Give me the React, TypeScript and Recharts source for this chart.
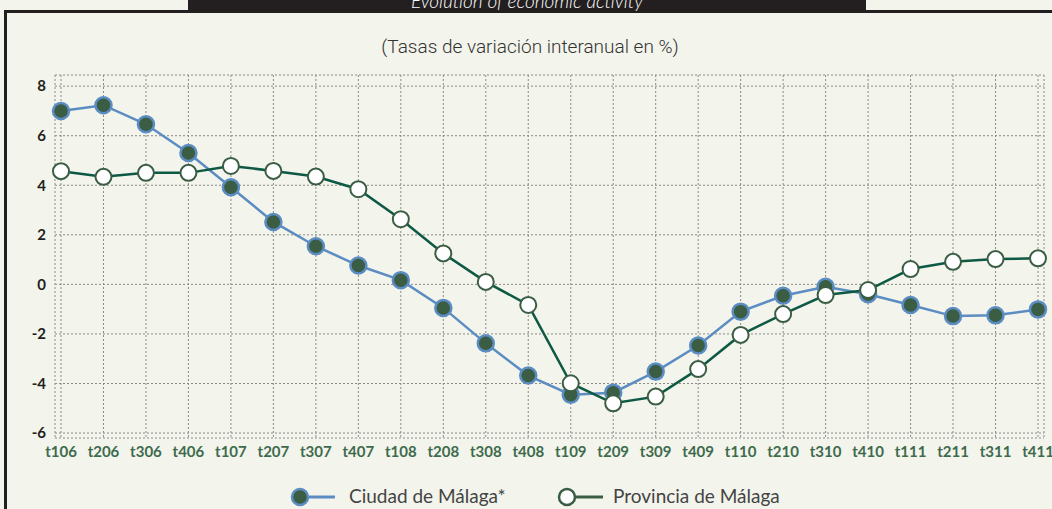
import React from 'react';
import { LineChart, Line, XAxis, YAxis, CartesianGrid } from 'recharts';

const categories = ['t106','t206','t306','t406','t107','t207','t307','t407','t108','t208','t308','t408','t109','t209','t309','t409','t110','t210','t310','t410','t111','t211','t311','t411'];
const ciudad = [7.0, 7.23, 6.46, 5.3, 3.92, 2.52, 1.54, 0.76, 0.17, -0.95, -2.38, -3.68, -4.45, -4.37, -3.52, -2.47, -1.1, -0.46, -0.1, -0.4, -0.83, -1.28, -1.25, -1.01];
const provincia = [4.57, 4.34, 4.5, 4.5, 4.78, 4.58, 4.35, 3.84, 2.63, 1.25, 0.1, -0.83, -3.99, -4.8, -4.53, -3.42, -2.04, -1.2, -0.43, -0.23, 0.62, 0.91, 1.02, 1.05];
const yTicks = [-6, -4, -2, 0, 2, 4, 6, 8];

const title = 'Evolution of economic activity';
const subtitle = '(Tasas de variación interanual en %)';
const seriesNames = ['Ciudad de Málaga*', 'Provincia de Málaga'];

const data = categories.map((c, i) => ({ cat: c, ciudad: ciudad[i], provincia: provincia[i] }));

const BG = '#f3f4ec';
const BLUE = '#5b8cc2';
const DKGREEN = '#3a5d44';
const LINEGREEN = '#0d5944';

export default function App() {
  return (
    <div style={{ position: 'absolute', left: 0, top: 0, width: 1052, height: 509, background: BG, overflow: 'hidden' }}>
      <svg width={1052} height={509} style={{ position: 'absolute', left: 0, top: 0 }}>
        <rect x={188} y={0} width={678} height={12} fill="#231f20" />
        <rect x={4} y={10} width={1048} height={3} fill="#231f20" />
        <rect x={4} y={10} width={3} height={499} fill="#231f20" />
        <text x={527} y={8} textAnchor="middle" fill="#ffffff" fontStyle="italic" fontSize={19} fontFamily="Lato, sans-serif" fontWeight={300}>{title}</text>
        <text x={530} y={53} textAnchor="middle" fill="#333333" fontSize={19} fontFamily="Roboto, sans-serif" fontWeight={300}>{subtitle}</text>
      </svg>
      <div style={{ position: 'absolute', left: 0, top: 0 }}>
        <LineChart width={1052} height={509} data={data} margin={{ top: 75, right: 8, bottom: 0, left: 0 }}>
          <CartesianGrid stroke="#8a8a8a" strokeDasharray="2 2" />
          <XAxis dataKey="cat" interval={0} padding={{ left: 6, right: 6 }} height={71} axisLine={false} tickLine={false} tickSize={0} tickMargin={8}
            tick={{ fill: '#3d6b4c', fontSize: 15, fontWeight: 700, fontFamily: 'Lato, sans-serif' }} />
          <YAxis width={55} domain={[-6.2, 8.45]} ticks={yTicks} allowDataOverflow axisLine={false} tickLine={false} tickSize={0} tickMargin={9}
            tick={{ fill: '#231f20', fontSize: 15, fontWeight: 700, fontFamily: 'Lato, sans-serif' }} />
          <Line dataKey="ciudad" name={seriesNames[0]} stroke={BLUE} strokeWidth={2.5} isAnimationActive={false}
            dot={{ r: 8, fill: DKGREEN, stroke: BLUE, strokeWidth: 2.5 }} activeDot={false} />
          <Line dataKey="provincia" name={seriesNames[1]} stroke={LINEGREEN} strokeWidth={2.5} isAnimationActive={false}
            dot={{ r: 8, fill: '#ffffff', stroke: DKGREEN, strokeWidth: 2 }} activeDot={false} />
        </LineChart>
      </div>
      <svg width={1052} height={30} style={{ position: 'absolute', left: 0, top: 482 }}>
        <line x1={306} y1={15} x2={335} y2={15} stroke={BLUE} strokeWidth={3} />
        <circle cx={300} cy={15} r={8} fill={DKGREEN} stroke={BLUE} strokeWidth={2.5} />
        <text x={349} y={21} fill="#444444" fontSize={19} fontFamily="Lato, sans-serif">{seriesNames[0]}</text>
        <line x1={574} y1={15} x2={603} y2={15} stroke={DKGREEN} strokeWidth={3} />
        <circle cx={567} cy={15} r={8} fill="#ffffff" stroke={DKGREEN} strokeWidth={2.5} />
        <text x={613} y={21} fill="#444444" fontSize={19} fontFamily="Lato, sans-serif">{seriesNames[1]}</text>
      </svg>
    </div>
  );
}
